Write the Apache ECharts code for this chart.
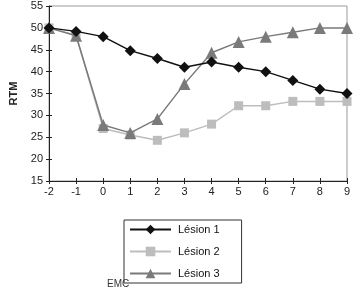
<!DOCTYPE html>
<html>
<head>
<meta charset="utf-8">
<script src="https://cdn.jsdelivr.net/npm/echarts@6/dist/echarts.min.js"></script>
<style>
  html, body { margin: 0; padding: 0; background: #fff; }
  #chart { width: 355px; height: 293px; }
</style>
</head>
<body>
<div id="chart"></div>
<script>
// x positions (time points)
var xValues = [-2, -1, 0, 1, 2, 3, 4, 5, 6, 7, 8, 9];

// RTM values
var lesion1 = [50, 49.2, 48, 44.8, 43, 41, 42.2, 41, 40, 38, 36, 35];
var lesion2 = [50, 48.3, 27, 25.5, 24.3, 26, 28, 32.2, 32.2, 33.2, 33.2, 33.2];
var lesion3 = [50, 48.2, 27.8, 26, 29.2, 37.2, 44.3, 46.8, 48, 49, 50, 50];

var seriesNames = ['Lésion 1', 'Lésion 2', 'Lésion 3'];

function pairs(vals) {
    return xValues.map(function (x, i) { return [x, vals[i]]; });
}

var fontFamily = '"Liberation Sans", Arial, sans-serif';

var chart = echarts.init(document.getElementById('chart'), null, { renderer: 'canvas' });

var option = {
    animation: false,
    backgroundColor: '#fff',
    textStyle: { fontFamily: fontFamily },
    grid: {
        left: 49, right: 8, top: 6, bottom: 112,
        show: true,
        borderColor: '#9a9a9a',
        borderWidth: 1
    },
    xAxis: [{
        type: 'value',
        min: -2, max: 9, interval: 1,
        axisLine: { onZero: false, lineStyle: { color: '#222', width: 1 } },
        axisTick: { show: true, length: 3, lineStyle: { color: '#222' } },
        axisLabel: { color: '#222', fontSize: 11, margin: 5 },
        splitLine: { show: false }
    }, {
        // inner half of the crossing ticks
        type: 'value', position: 'bottom', offset: 0,
        min: -2, max: 9, interval: 1,
        axisLine: { show: false, onZero: false },
        axisTick: { show: true, inside: true, length: 3, lineStyle: { color: '#222' } },
        axisLabel: { show: false },
        splitLine: { show: false }
    }],
    yAxis: [{
        type: 'value',
        min: 15, max: 55, interval: 5,
        name: 'RTM',
        nameLocation: 'middle',
        nameGap: 27,
        nameRotate: 90,
        nameTextStyle: { fontWeight: 'bold', fontSize: 11, color: '#222' },
        axisLine: { show: true, onZero: false, lineStyle: { color: '#222', width: 1 } },
        axisTick: { show: true, length: 3, lineStyle: { color: '#222' } },
        axisLabel: { color: '#222', fontSize: 11, margin: 6 },
        splitLine: { show: false }
    }, {
        type: 'value', position: 'left', offset: 0,
        min: 15, max: 55, interval: 5,
        axisLine: { show: false, onZero: false },
        axisTick: { show: true, inside: true, length: 3, lineStyle: { color: '#222' } },
        axisLabel: { show: false },
        splitLine: { show: false }
    }],
    legend: {
        orient: 'vertical',
        left: 124, top: 220,
        padding: [4, 22, 4, 5],
        itemWidth: 41,
        itemHeight: 12,
        itemGap: 11,
        borderColor: '#333',
        borderWidth: 1,
        textStyle: { fontSize: 11, color: '#111', padding: [0, 0, 0, 2] },
        data: seriesNames
    },
    graphic: [{
        type: 'text',
        left: 107, top: 279,
        style: { text: 'EMC', fontSize: 10, fill: '#333', fontFamily: '"Liberation Sans Narrow", "Liberation Sans", sans-serif' }
    }],
    series: [{
        name: seriesNames[0],
        type: 'line',
        data: pairs(lesion1),
        symbol: 'diamond',
        symbolSize: 11,
        z: 4,
        lineStyle: { color: '#111', width: 1.5 },
        itemStyle: { color: '#111' }
    }, {
        name: seriesNames[1],
        type: 'line',
        data: pairs(lesion2),
        symbol: 'rect',
        symbolSize: 9,
        z: 2,
        lineStyle: { color: '#bdbdbd', width: 1.5 },
        itemStyle: { color: '#bdbdbd' }
    }, {
        name: seriesNames[2],
        type: 'line',
        data: pairs(lesion3),
        symbol: 'triangle',
        symbolSize: 12,
        z: 3,
        lineStyle: { color: '#7a7a7a', width: 1.5 },
        itemStyle: { color: '#7a7a7a' }
    }]
};

chart.setOption(option);
</script>
</body>
</html>
